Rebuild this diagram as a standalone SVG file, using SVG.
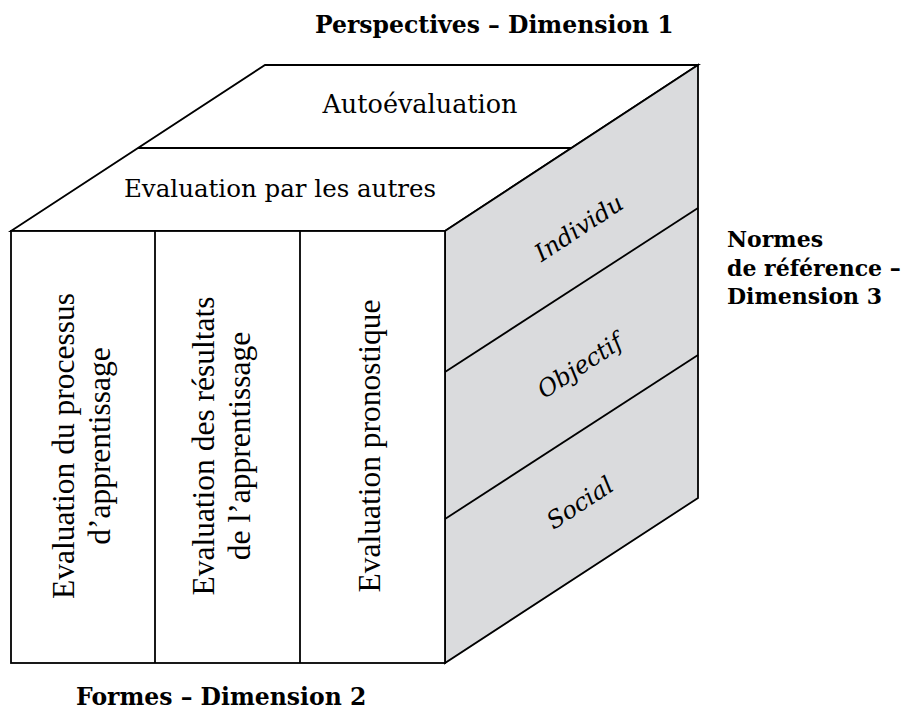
<svg xmlns="http://www.w3.org/2000/svg" width="914" height="713" viewBox="0 0 914 713">
<style>
.face{fill:#ffffff;stroke:#000;stroke-width:1.8;stroke-linejoin:miter}
.side{fill:#dadbdd;stroke:#000;stroke-width:1.8;stroke-linejoin:miter}
.ln{stroke:#000;stroke-width:1.8;fill:none}
.top{font-family:"DejaVu Serif","Liberation Serif",serif;font-size:24.5px;fill:#000;text-anchor:middle}
.col{font-family:"Liberation Serif","Times New Roman",serif;font-size:31.5px;fill:#000;text-anchor:middle}
.it{font-family:"DejaVu Serif","Liberation Serif",serif;font-style:italic;font-size:24px;fill:#000;text-anchor:middle}
.lab{font-family:"DejaVu Serif","Liberation Serif",serif;font-weight:bold;font-size:23.5px;fill:#000}
.lab3{font-size:22px}
</style>
<rect width="914" height="713" fill="#fff"/>
<g id="top-face">
<polygon class="face" points="11,231 265,65 698,65 445,231"/>
</g>
<g id="right-face">
<polygon class="side" points="445,231 698,65 698,498 445,663"/>
</g>
<g id="front-face">
<rect class="face" x="11" y="231" width="434" height="432"/>
</g>
<g id="connectors">
<line class="ln" x1="138" y1="148" x2="572" y2="148"/>
<line class="ln" x1="155" y1="231" x2="155" y2="663"/>
<line class="ln" x1="300" y1="231" x2="300" y2="663"/>
<line class="ln" x1="445" y1="372" x2="698" y2="208"/>
<line class="ln" x1="445" y1="519" x2="698" y2="355"/>
</g>
<g id="autoevaluation"><text class="top" x="420" y="113" style="font-size:25.5px">Autoévaluation</text></g>
<g id="evaluation-par-les-autres"><text class="top" x="280" y="197">Evaluation par les autres</text></g>
<g id="col1" transform="translate(0,446) rotate(-90)">
<text class="col" x="0" y="74">Evaluation du processus</text>
<text class="col" x="0" y="110">d’apprentissage</text>
</g>
<g id="col2" transform="translate(0,446) rotate(-90)">
<text class="col" x="0" y="214">Evaluation des résultats</text>
<text class="col" x="0" y="250">de l’apprentissage</text>
</g>
<g id="col3" transform="translate(0,446) rotate(-90)">
<text class="col" x="0" y="380">Evaluation pronostique</text>
</g>
<g id="individu" transform="translate(579,228) rotate(-33.3)"><text class="it" x="0" y="8">Individu</text></g>
<g id="objectif" transform="translate(580,366) rotate(-33.3)"><text class="it" x="0" y="8">Objectif</text></g>
<g id="social" transform="translate(580,503) rotate(-33.3)"><text class="it" x="0" y="8">Social</text></g>
<g id="dim1"><text class="lab" x="315" y="33">Perspectives – Dimension 1</text></g>
<g id="dim2"><text class="lab" x="76" y="705">Formes – Dimension 2</text></g>
<g id="dim3"><text class="lab lab3" x="727" y="247">Normes</text><text class="lab lab3" x="727" y="276">de référence –</text><text class="lab lab3" x="727" y="304">Dimension 3</text></g>
</svg>
